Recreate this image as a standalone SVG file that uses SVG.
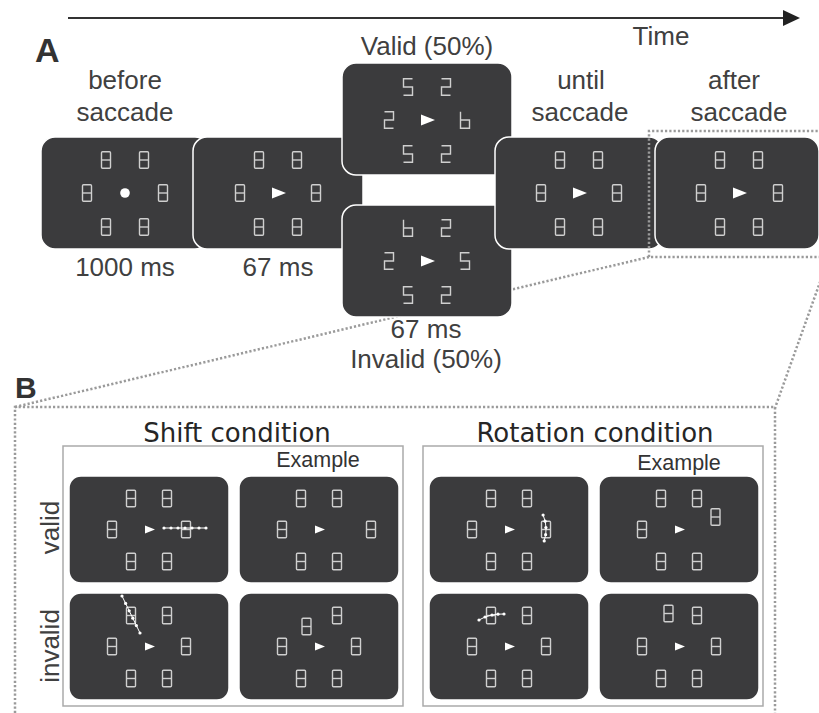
<svg xmlns="http://www.w3.org/2000/svg" xmlns:xlink="http://www.w3.org/1999/xlink" width="819" height="713" viewBox="0 0 819 713">
<style>
.scr{fill:#3b3b3d;stroke:#fff;stroke-width:1.5}
.d{fill:none;stroke:#cfcfcf;stroke-width:1.4}
.arr{fill:#fff}
.lbl{font-family:"Liberation Sans",Arial,sans-serif;font-size:26px;fill:#404040;text-anchor:middle}
.ttl{font-family:"DejaVu Sans",Verdana,sans-serif;font-size:26px;fill:#262626;text-anchor:middle}
.ex{font-family:"Liberation Sans",Arial,sans-serif;font-size:21.5px;fill:#333;text-anchor:middle}
.big{font-family:"Liberation Sans",Arial,sans-serif;font-weight:bold;fill:#333}
.dot{fill:none;stroke:#9a9a9a;stroke-width:2.5;stroke-dasharray:2.2 2.1}
.box{fill:#fff;stroke:#aaa;stroke-width:1.5}
.trj{fill:none;stroke:#fff;stroke-width:1}
.tdot{fill:#fff}
</style>
<defs>
<g id="d8" class="d"><rect x="-4.5" y="-8.3" width="9" height="16.6" rx="1"/><line x1="-4.5" y1="0" x2="4.5" y2="0"/></g>
<polyline id="d5" class="d" points="4.5,-8.3 -4.5,-8.3 -4.5,0 4.5,0 4.5,8.3 -4.5,8.3"/>
<polyline id="d2" class="d" points="-4.5,-8.3 4.5,-8.3 4.5,0 -4.5,0 -4.5,8.3 4.5,8.3"/>
<polyline id="d6" class="d" points="-4.5,-8.3 -4.5,8.3 4.5,8.3 4.5,0 -4.5,0"/>
<polygon id="ar" class="arr" points="-7,-5.5 7,0 -7,5.5"/>
<polygon id="ars" class="arr" points="-5,-4 5,0 -5,4"/>
</defs>
<rect width="819" height="713" fill="#fff"/>

<g id="connectors-back">
<line x1="68" y1="18" x2="786" y2="18" stroke="#333" stroke-width="2"/>
<polygon points="783,10 800,18 783,26" fill="#222"/>
<line class="dot" x1="649" y1="257" x2="15" y2="407"/>
<line class="dot" x1="829" y1="257" x2="775" y2="408"/>
</g>

<g id="labels-A">
<text class="big" x="35" y="62" font-size="34">A</text>
<text class="lbl" x="661" y="45">Time</text>
<text class="lbl" x="125" y="89">before</text>
<text class="lbl" x="125" y="121">saccade</text>
<text class="lbl" x="427" y="55">Valid (50%)</text>
<text class="lbl" x="581" y="89">until</text>
<text class="lbl" x="580" y="121">saccade</text>
<text class="lbl" x="734" y="89">after</text>
<text class="lbl" x="739" y="121">saccade</text>
<text class="lbl" x="125" y="276">1000 ms</text>
<text class="lbl" x="278" y="276">67 ms</text>
<text class="lbl" x="426" y="338">67 ms</text>
<text class="lbl" x="426" y="368">Invalid (50%)</text>
</g>

<g id="screen-before">
<rect class="scr" x="41" y="137" width="168" height="112" rx="14" stroke="none"/>
<use href="#d8" x="106" y="160"/><use href="#d8" x="144" y="160"/>
<use href="#d8" x="87" y="193"/><use href="#d8" x="163" y="193"/>
<use href="#d8" x="106" y="227"/><use href="#d8" x="144" y="227"/>
<circle cx="125" cy="193" r="4.8" fill="#fff"/>
</g>

<g id="screen-cue">
<rect class="scr" x="193" y="137" width="170" height="112" rx="14"/>
<use href="#d8" x="259" y="160"/><use href="#d8" x="297" y="160"/>
<use href="#d8" x="240" y="193"/><use href="#d8" x="316" y="193"/>
<use href="#d8" x="259" y="227"/><use href="#d8" x="297" y="227"/>
<use href="#ar" x="279" y="193"/>
</g>

<g id="screen-valid">
<rect class="scr" x="342" y="63" width="170" height="112" rx="14"/>
<use href="#d5" x="408" y="87"/><use href="#d2" x="446" y="87"/>
<use href="#d2" x="389" y="120"/><use href="#d6" x="465" y="120"/>
<use href="#d5" x="408" y="154"/><use href="#d2" x="446" y="154"/>
<use href="#ar" x="428" y="120"/>
</g>

<g id="screen-invalid">
<rect class="scr" x="342" y="205" width="170" height="112" rx="14"/>
<use href="#d6" x="408" y="228"/><use href="#d2" x="446" y="228"/>
<use href="#d2" x="389" y="261"/><use href="#d5" x="465" y="261"/>
<use href="#d5" x="408" y="295"/><use href="#d2" x="446" y="295"/>
<use href="#ar" x="428" y="261"/>
</g>

<g id="screen-until">
<rect class="scr" x="495" y="137" width="168" height="112" rx="14"/>
<use href="#d8" x="560" y="160"/><use href="#d8" x="598" y="160"/>
<use href="#d8" x="541" y="193"/><use href="#d8" x="617" y="193"/>
<use href="#d8" x="560" y="227"/><use href="#d8" x="598" y="227"/>
<use href="#ar" x="580" y="193"/>
</g>

<g id="screen-after">
<rect class="scr" x="655" y="137" width="164" height="112" rx="14"/>
<use href="#d8" x="720" y="160"/><use href="#d8" x="758" y="160"/>
<use href="#d8" x="701" y="193"/><use href="#d8" x="778" y="193"/>
<use href="#d8" x="720" y="227"/><use href="#d8" x="758" y="227"/>
<use href="#ar" x="740" y="193"/>
</g>

<g id="connectors-front">
<path class="dot" d="M822,131 H649 V257 H822"/>
<path class="dot" d="M15,713 V407 H775 V713"/>
</g>

<g id="labels-B">
<text class="big" x="15" y="398" font-size="30">B</text>
<text class="ttl" x="237" y="442">Shift condition</text>
<text class="ttl" x="595" y="442">Rotation condition</text>
<text class="lbl" transform="translate(59,527.5) rotate(-90)" fill="#262626">valid</text>
<text class="lbl" transform="translate(59,646) rotate(-90)" fill="#262626">invalid</text>
</g>

<g id="shift-condition">
<rect class="box" x="63" y="446" width="340" height="260"/>
<text class="ex" x="318" y="467">Example</text>
</g>
<g id="rotation-condition">
<rect class="box" x="423" y="446" width="340" height="260"/>
<text class="ex" x="679" y="470">Example</text>
</g>

<g id="shift-valid">
<rect class="scr" x="69" y="476" width="160" height="107" rx="12" stroke="none"/>
<use href="#d8" x="131" y="498.5"/><use href="#d8" x="167" y="498.5"/>
<use href="#d8" x="112" y="529.5"/><use href="#d8" x="186" y="529.5"/>
<use href="#d8" x="131" y="561.5"/><use href="#d8" x="167" y="561.5"/>
<use href="#ars" x="150" y="529.5"/>
<line class="trj" x1="164" y1="528" x2="206" y2="528"/>
<g class="tdot"><circle cx="164" cy="528" r="1.6"/><circle cx="171" cy="528" r="1.6"/><circle cx="178" cy="528" r="1.6"/><circle cx="185" cy="528" r="1.6"/><circle cx="192" cy="528" r="1.6"/><circle cx="199" cy="528" r="1.6"/><circle cx="206" cy="528" r="1.6"/></g>
</g>

<g id="shift-valid-example">
<rect class="scr" x="239" y="476" width="160" height="107" rx="12" stroke="none"/>
<use href="#d8" x="301" y="498.5"/><use href="#d8" x="337" y="498.5"/>
<use href="#d8" x="282" y="529.5"/><use href="#d8" x="371" y="529.5"/>
<use href="#d8" x="301" y="561.5"/><use href="#d8" x="337" y="561.5"/>
<use href="#ars" x="320" y="529.5"/>
</g>

<g id="shift-invalid">
<rect class="scr" x="69" y="593" width="160" height="107" rx="12" stroke="none"/>
<use href="#d8" x="131" y="615.5"/><use href="#d8" x="167" y="615.5"/>
<use href="#d8" x="112" y="646.5"/><use href="#d8" x="186" y="646.5"/>
<use href="#d8" x="131" y="678.5"/><use href="#d8" x="167" y="678.5"/>
<use href="#ars" x="150" y="646.5"/>
<line class="trj" x1="122" y1="596" x2="140" y2="633"/>
<g class="tdot"><circle cx="122" cy="596" r="1.6"/><circle cx="125.6" cy="603.4" r="1.6"/><circle cx="129.2" cy="610.8" r="1.6"/><circle cx="132.8" cy="618.2" r="1.6"/><circle cx="136.4" cy="625.6" r="1.6"/><circle cx="140" cy="633" r="1.6"/></g>
</g>

<g id="shift-invalid-example">
<rect class="scr" x="239" y="593" width="160" height="107" rx="12" stroke="none"/>
<use href="#d8" x="306.5" y="626.5"/><use href="#d8" x="337" y="615.5"/>
<use href="#d8" x="282" y="646.5"/><use href="#d8" x="356" y="646.5"/>
<use href="#d8" x="301" y="678.5"/><use href="#d8" x="337" y="678.5"/>
<use href="#ars" x="320" y="646.5"/>
</g>

<g id="rotation-valid">
<rect class="scr" x="429" y="476" width="160" height="107" rx="12" stroke="none"/>
<use href="#d8" x="491" y="498.5"/><use href="#d8" x="527" y="498.5"/>
<use href="#d8" x="472" y="529.5"/><use href="#d8" x="546" y="529.5"/>
<use href="#d8" x="491" y="561.5"/><use href="#d8" x="527" y="561.5"/>
<use href="#ars" x="510" y="529.5"/>
<path class="trj" d="M543.1,515 A37,37 0 0 1 544.2,540.9"/>
<g class="tdot"><circle cx="543.1" cy="515" r="1.6"/><circle cx="545.1" cy="521.2" r="1.6"/><circle cx="545.9" cy="527.6" r="1.6"/><circle cx="545.6" cy="534.7" r="1.6"/><circle cx="544.2" cy="540.9" r="1.6"/></g>
</g>

<g id="rotation-valid-example">
<rect class="scr" x="599" y="476" width="160" height="107" rx="12" stroke="none"/>
<use href="#d8" x="661" y="498.5"/><use href="#d8" x="697" y="498.5"/>
<use href="#d8" x="642" y="529.5"/><use href="#d8" x="715.5" y="517"/>
<use href="#d8" x="661" y="561.5"/><use href="#d8" x="697" y="561.5"/>
<use href="#ars" x="680" y="529.5"/>
</g>

<g id="rotation-invalid">
<rect class="scr" x="429" y="593" width="160" height="107" rx="12" stroke="none"/>
<use href="#d8" x="491" y="615.5"/><use href="#d8" x="527" y="615.5"/>
<use href="#d8" x="472" y="646.5"/><use href="#d8" x="546" y="646.5"/>
<use href="#d8" x="491" y="678.5"/><use href="#d8" x="527" y="678.5"/>
<use href="#ars" x="510" y="646.5"/>
<path class="trj" d="M479,620 Q490,613.5 504,614"/>
<g class="tdot"><circle cx="479" cy="620" r="1.6"/><circle cx="485" cy="617" r="1.6"/><circle cx="492" cy="615" r="1.6"/><circle cx="498" cy="614.2" r="1.6"/><circle cx="504" cy="614" r="1.6"/></g>
</g>

<g id="rotation-invalid-example">
<rect class="scr" x="599" y="593" width="160" height="107" rx="12" stroke="none"/>
<use href="#d8" x="668.5" y="613.5"/><use href="#d8" x="697" y="615.5"/>
<use href="#d8" x="642" y="646.5"/><use href="#d8" x="716" y="646.5"/>
<use href="#d8" x="661" y="678.5"/><use href="#d8" x="697" y="678.5"/>
<use href="#ars" x="680" y="646.5"/>
</g>
</svg>
